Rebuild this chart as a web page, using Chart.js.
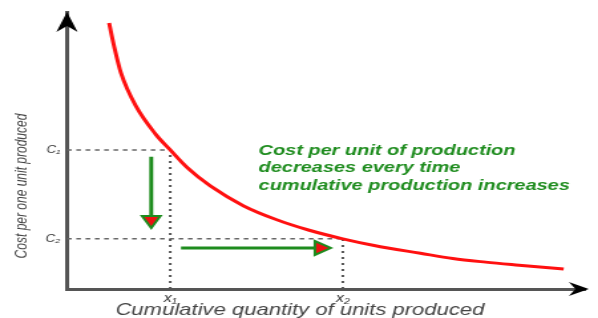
<!DOCTYPE html>
<html>
<head>
<meta charset="utf-8">
<script src="https://cdn.jsdelivr.net/npm/chart.js@4/dist/chart.umd.min.js"></script>
<style>
html, body { margin: 0; padding: 0; background: #fff; overflow: hidden; }
/* the reference picture is squeezed into a wide box, so stretch the drawing the same way */
#wrap { width: 450px; height: 318px; transform: scaleX(1.329); transform-origin: 0 0; }
</style>
</head>
<body>
<div id="wrap"><canvas id="myChart" width="450" height="318"></canvas></div>
<script>
// learning curve (both axes run 0-100)
const curveX = [8.2, 9.2, 10.5, 13.4, 17.2, 20.1, 23.5, 27.9, 34.4, 40.7, 47.0, 53.7, 59.8, 68.8, 75.1, 81.5, 88.0, 96.7];
const curveY = [96.0, 87.4, 78.0, 66.1, 56.0, 50.2, 43.7, 37.2, 30.0, 25.1, 21.3, 18.1, 15.7, 12.9, 11.0, 9.7, 8.6, 7.2];

// quantities x1, x2 and the costs C1, C2 on the curve
const xMarks = [20.1, 53.7];
const xLabels = ['x\u2081', 'x\u2082'];
const cMarks = [50.2, 18.1];
const cLabels = ['C\u2081', 'C\u2082'];

// green arrows (start, head)
const arrowDownX = [16.4, 16.4];
const arrowDownY = [47.7, 24.9];
const arrowRightX = [22.2, 49.3];
const arrowRightY = [14.8, 14.8];

const xTitle = 'Cumulative quantity of units produced';
const yTitle = 'Cost per one unit produced';
const noteLines = ['Cost per unit of production', 'decreases every time', 'cumulative production increases'];

const green = '#1e8c1e';
const guideColor = '#666';
const font = '"Liberation Sans", Arial, sans-serif';

function pts(xs, ys) {
    return xs.map((x, i) => ({ x: x, y: ys[i] }));
}

let datasets = [{
    data: pts(curveX, curveY),
    borderColor: '#ff1010',
    borderWidth: 3,
    pointRadius: 0,
    cubicInterpolationMode: 'monotone'
}];

// dashed cost lines and dotted quantity lines
for (let i = 0; i < xMarks.length; i++) {
    datasets.push({
        data: [{ x: 0, y: cMarks[i] }, { x: xMarks[i], y: cMarks[i] }],
        borderColor: guideColor,
        borderWidth: 1.5,
        borderDash: [3.5, 3.5],
        pointRadius: 0
    });
    datasets.push({
        data: [{ x: xMarks[i], y: 0 }, { x: xMarks[i], y: cMarks[i] }],
        borderColor: '#555',
        borderWidth: 2,
        borderDash: [2, 4],
        pointRadius: 0
    });
}

// arrows, the head is a triangle point
datasets.push({
    data: pts(arrowDownX, arrowDownY),
    borderColor: green,
    borderWidth: 3,
    pointRadius: [0, 8],
    pointStyle: 'triangle',
    rotation: 180,
    pointBackgroundColor: '#ee1111',
    pointBorderColor: green,
    pointBorderWidth: 2
});
datasets.push({
    data: pts(arrowRightX, arrowRightY),
    borderColor: green,
    borderWidth: 3,
    pointRadius: [0, 8],
    pointStyle: 'triangle',
    rotation: 90,
    pointBackgroundColor: '#ee1111',
    pointBorderColor: green,
    pointBorderWidth: 2
});

// axis titles, black arrow tips on the axes, the green note
const extras = {
    id: 'extras',
    afterDatasetsDraw(chart) {
        const ctx = chart.ctx;
        const x = chart.scales.x, y = chart.scales.y;
        ctx.save();
        ctx.font = 'italic bold 15px ' + font;
        ctx.fillStyle = green;
        ctx.textBaseline = 'alphabetic';
        const left = x.getPixelForValue(37.3);
        const top = y.getPixelForValue(48.4);
        noteLines.forEach((t, i) => ctx.fillText(t, left, top + i * 17.5));

        ctx.fillStyle = '#444';
        ctx.textAlign = 'center';
        ctx.textBaseline = 'middle';
        ctx.font = 'italic 16.6px ' + font;
        ctx.fillText(xTitle, 225.7, 310);
        ctx.translate(16.5, 186);
        ctx.rotate(-Math.PI / 2);
        ctx.font = 'italic 12px ' + font;
        ctx.fillText(yTitle, 0, 0);
        ctx.restore();
    },
    afterDraw(chart) {
        const ctx = chart.ctx;
        const a = chart.chartArea;
        ctx.save();
        ctx.fillStyle = '#000';
        // up arrow
        ctx.beginPath();
        ctx.moveTo(a.left, a.top);
        ctx.lineTo(a.left + 8, a.top + 20);
        ctx.lineTo(a.left, a.top + 14);
        ctx.lineTo(a.left - 8, a.top + 20);
        ctx.closePath();
        ctx.fill();
        // right arrow
        ctx.beginPath();
        ctx.moveTo(a.right + 3, a.bottom);
        ctx.lineTo(a.right - 12, a.bottom - 7);
        ctx.lineTo(a.right - 7, a.bottom);
        ctx.lineTo(a.right - 12, a.bottom + 7);
        ctx.closePath();
        ctx.fill();
        ctx.restore();
    }
};

const ctx = document.getElementById('myChart').getContext('2d');

let myChart = new Chart(ctx, {
    type: 'line',
    data: { datasets: datasets },
    options: {
        responsive: false,
        animation: false,
        devicePixelRatio: 1,
        layout: { padding: { top: 12, right: 0, left: 0, bottom: 0 } },
        plugins: { legend: { display: false }, tooltip: { enabled: false } },
        scales: {
            x: {
                type: 'linear',
                min: 0,
                max: 100.8,
                grid: { display: false, drawTicks: false },
                border: { display: true, color: '#555', width: 3 },
                afterBuildTicks: (s) => { s.ticks = xMarks.map(v => ({ value: v })); },
                afterFit: (s) => { s.height = 29; },
                ticks: {
                    autoSkip: false,
                    maxRotation: 0,
                    padding: 2,
                    color: '#333',
                    font: { family: font, size: 12, style: 'italic' },
                    callback: (v) => xLabels[xMarks.indexOf(v)]
                }
            },
            y: {
                type: 'linear',
                min: 0,
                max: 100,
                grid: { display: false, drawTicks: false },
                border: { display: true, color: '#555', width: 3 },
                afterBuildTicks: (s) => { s.ticks = cMarks.map(v => ({ value: v })); },
                afterFit: (s) => { s.width = 50.4; },
                ticks: {
                    autoSkip: false,
                    padding: 5,
                    color: '#333',
                    font: { family: font, size: 10, style: 'italic' },
                    callback: (v) => cLabels[cMarks.indexOf(v)]
                }
            }
        }
    },
    plugins: [extras]
});
</script>
</body>
</html>
